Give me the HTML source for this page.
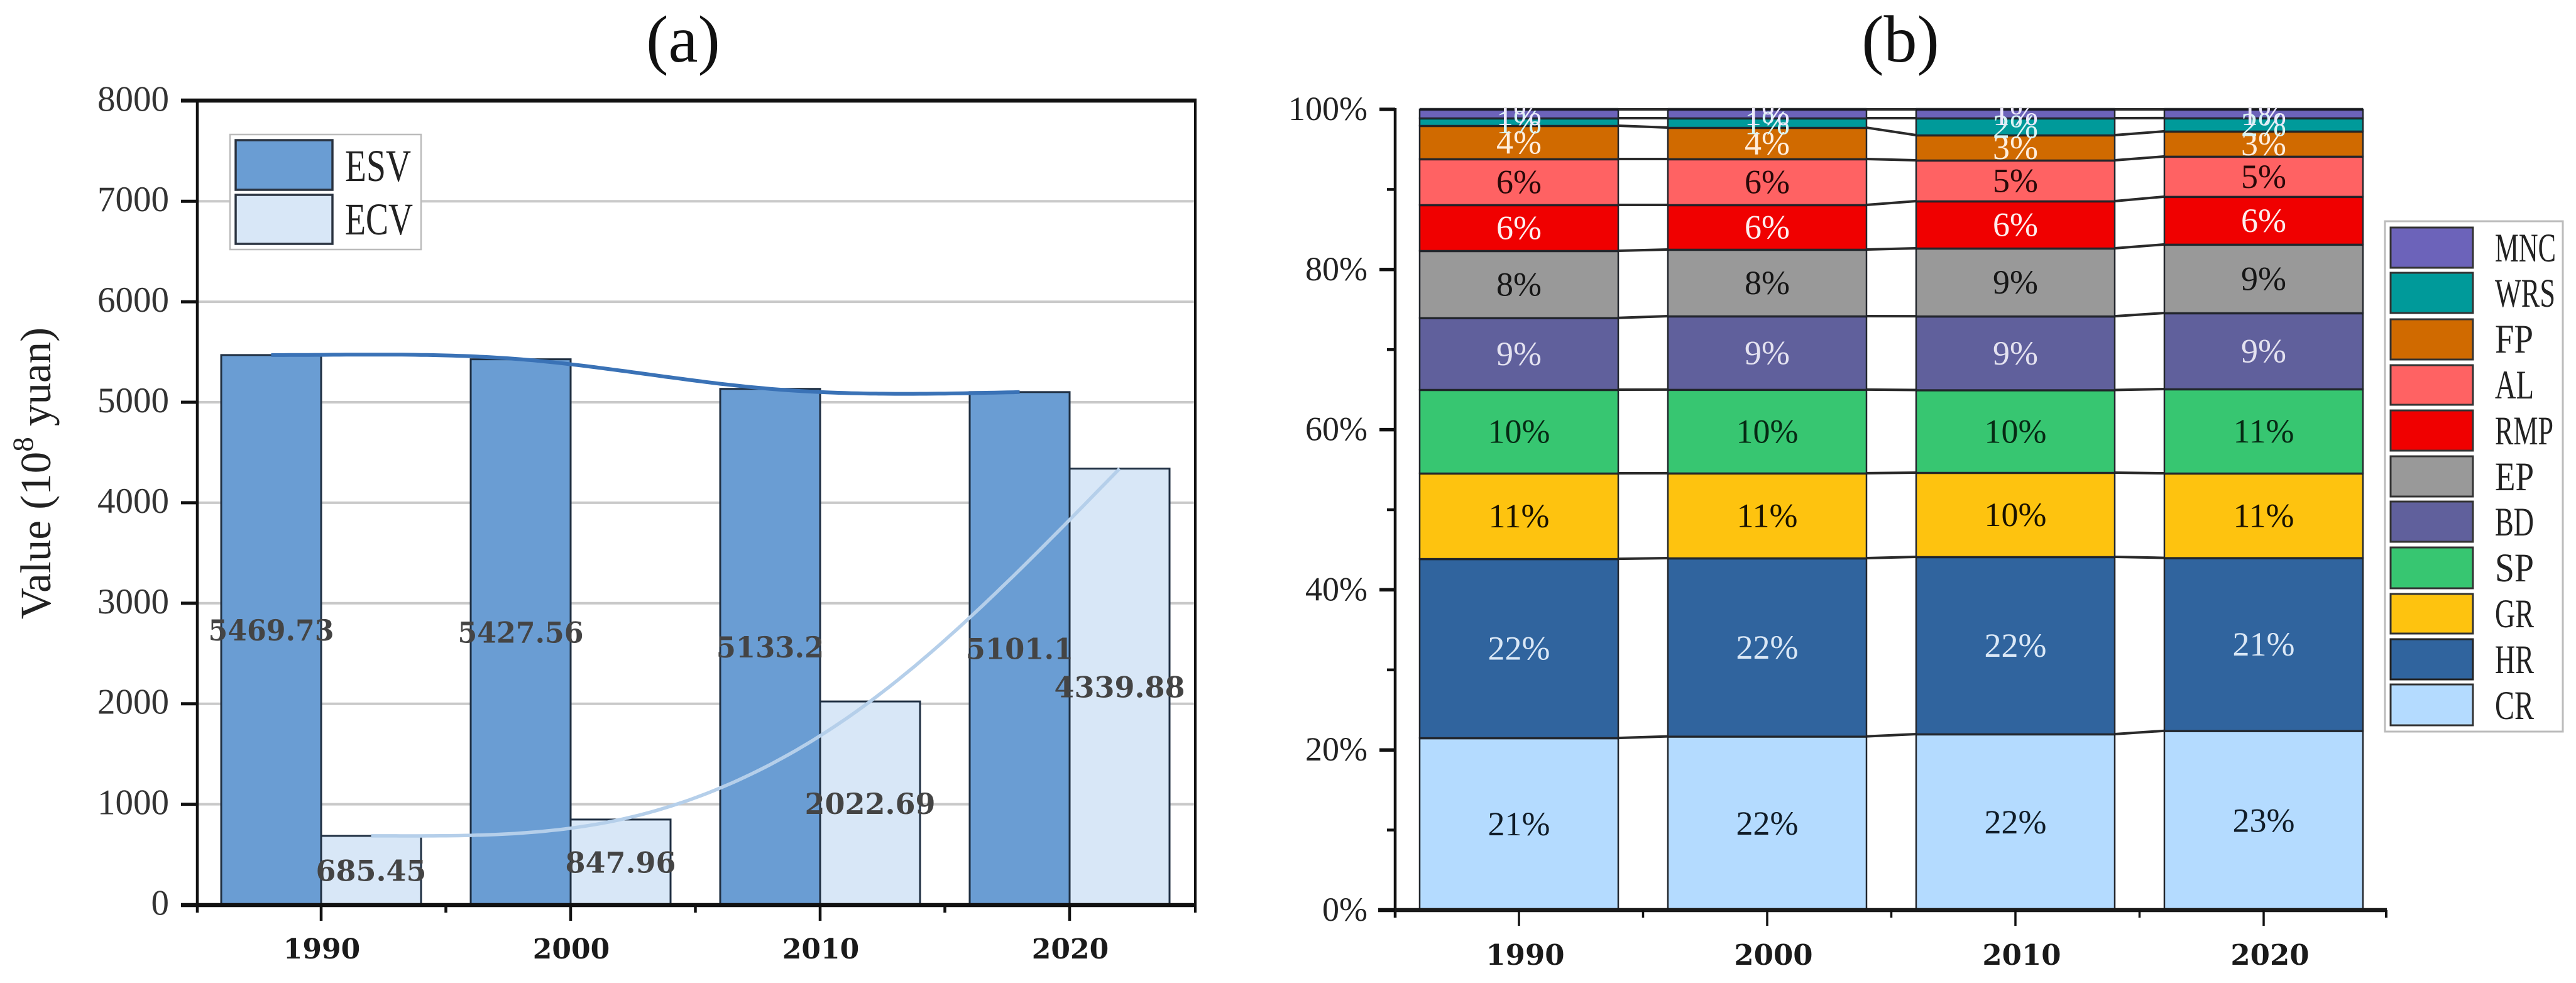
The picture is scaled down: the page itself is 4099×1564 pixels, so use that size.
<!DOCTYPE html>
<html lang="en">
<head>
<meta charset="utf-8">
<title>ESV and ECV charts</title>
<style>
html,body{margin:0;padding:0;background:#fff;}
svg{display:block;}
text{font-family:"Liberation Serif",serif;}
</style>
</head>
<body>
<svg id="figure" xmlns="http://www.w3.org/2000/svg" width="4099" height="1564" viewBox="0 0 4099 1564">
  <defs>
    <clipPath id="plot-b-clip"><rect x="2190" y="172" width="1620" height="1300"/></clipPath>
  </defs>
  <rect x="0" y="0" width="4099" height="1564" fill="#fff"/>
  <text x="1087" y="98" font-size="106" text-anchor="middle" fill="#111">(a)</text>
  <text x="3024" y="98" font-size="106" text-anchor="middle" fill="#111">(b)</text>
  <text transform="translate(80,753) rotate(-90)" font-size="69" text-anchor="middle" fill="#222">Value (10<tspan font-size="47" dy="-28">8</tspan><tspan dy="28"> yuan)</tspan></text>
  <g id="panel-a"></g>
  <g id="panel-b"></g>

  <g>
    <rect x="366" y="214" width="304" height="183" fill="#fff" stroke="#bbb" stroke-width="2.5"/>
    <rect x="375" y="223" width="154" height="79" fill="#6a9dd3" stroke="#2a3340" stroke-width="3.5"/>
    <rect x="375" y="310" width="154" height="78" fill="#d8e7f7" stroke="#2a3340" stroke-width="3.5"/>
    <text x="549" y="288" font-size="72" textLength="105" lengthAdjust="spacingAndGlyphs" fill="#222">ESV</text>
    <text x="549" y="373" font-size="72" textLength="108" lengthAdjust="spacingAndGlyphs" fill="#222">ECV</text>
  </g>

  <g>
    <rect x="3795" y="352" width="283" height="812" fill="#fff" stroke="#bbb" stroke-width="3"/>
    <rect x="3804" y="362" width="131" height="64" fill="#6c63ba" stroke="#333" stroke-width="3"/>
    <text x="3970" y="416" font-size="65" textLength="97" lengthAdjust="spacingAndGlyphs" fill="#222">MNC</text>
    <rect x="3804" y="434" width="131" height="64" fill="#009a9a" stroke="#333" stroke-width="3"/>
    <text x="3970" y="488" font-size="65" textLength="96" lengthAdjust="spacingAndGlyphs" fill="#222">WRS</text>
    <rect x="3804" y="508" width="131" height="64" fill="#d06a00" stroke="#333" stroke-width="3"/>
    <text x="3970" y="561" font-size="65" textLength="61" lengthAdjust="spacingAndGlyphs" fill="#222">FP</text>
    <rect x="3804" y="581" width="131" height="63" fill="#ff6263" stroke="#333" stroke-width="3"/>
    <text x="3970" y="634" font-size="65" textLength="62" lengthAdjust="spacingAndGlyphs" fill="#222">AL</text>
    <rect x="3804" y="653" width="131" height="64" fill="#f00000" stroke="#333" stroke-width="3"/>
    <text x="3970" y="707" font-size="65" textLength="93" lengthAdjust="spacingAndGlyphs" fill="#222">RMP</text>
    <rect x="3804" y="726" width="131" height="64" fill="#999999" stroke="#333" stroke-width="3"/>
    <text x="3970" y="780" font-size="65" textLength="62" lengthAdjust="spacingAndGlyphs" fill="#222">EP</text>
    <rect x="3804" y="798" width="131" height="64" fill="#60609c" stroke="#333" stroke-width="3"/>
    <text x="3970" y="852" font-size="65" textLength="62" lengthAdjust="spacingAndGlyphs" fill="#222">BD</text>
    <rect x="3804" y="871" width="131" height="65" fill="#37c671" stroke="#333" stroke-width="3"/>
    <text x="3970" y="925" font-size="65" textLength="62" lengthAdjust="spacingAndGlyphs" fill="#222">SP</text>
    <rect x="3804" y="945" width="131" height="63" fill="#fec30f" stroke="#333" stroke-width="3"/>
    <text x="3970" y="998" font-size="65" textLength="62" lengthAdjust="spacingAndGlyphs" fill="#222">GR</text>
    <rect x="3804" y="1017" width="131" height="64" fill="#30649e" stroke="#222" stroke-width="3"/>
    <text x="3970" y="1071" font-size="65" textLength="62" lengthAdjust="spacingAndGlyphs" fill="#222">HR</text>
    <rect x="3804" y="1089" width="131" height="65" fill="#b4dbff" stroke="#333" stroke-width="3"/>
    <text x="3970" y="1144" font-size="65" textLength="62" lengthAdjust="spacingAndGlyphs" fill="#222">CR</text>
  </g>
</svg>
<script>
// ---- data ----
const years = ['1990', '2000', '2010', '2020'];
const esvValues = [5469.73, 5427.56, 5133.2, 5101.1];
const ecvValues = [685.45, 847.96, 2022.69, 4339.88];
const valueTicks = [0, 1000, 2000, 3000, 4000, 5000, 6000, 7000, 8000];
const percentTicks = [0, 20, 40, 60, 80, 100];
const percentMinorTicks = [10, 30, 50, 70, 90];

const layerNames = ['CR', 'HR', 'GR', 'SP', 'BD', 'EP', 'RMP', 'AL', 'FP', 'WRS', 'MNC'];
const layerCR = [21.5, 21.69, 21.98, 22.39];
const layerHR = [22.37, 22.27, 22.13, 21.6];
const layerGR = [10.68, 10.6, 10.52, 10.56];
const layerSP = [10.44, 10.44, 10.32, 10.52];
const layerBD = [8.97, 9.18, 9.22, 9.5];
const layerEP = [8.38, 8.32, 8.48, 8.56];
const layerRMP = [5.73, 5.57, 5.89, 5.97];
const layerAL = [5.73, 5.73, 5.1, 5.02];
const layerFP = [4.16, 3.92, 3.14, 3.14];
const layerWRS = [0.94, 1.18, 2.12, 1.65];
const layerMNC = [1.1, 1.1, 1.1, 1.09];
const labelCR = ['21%', '22%', '22%', '23%'];
const labelHR = ['22%', '22%', '22%', '21%'];
const labelGR = ['11%', '11%', '10%', '11%'];
const labelSP = ['10%', '10%', '10%', '11%'];
const labelBD = ['9%', '9%', '9%', '9%'];
const labelEP = ['8%', '8%', '9%', '9%'];
const labelRMP = ['6%', '6%', '6%', '6%'];
const labelAL = ['6%', '6%', '5%', '5%'];
const labelFP = ['4%', '4%', '3%', '3%'];
const labelWRS = ['1%', '1%', '2%', '2%'];
const labelMNC = ['1%', '1%', '1%', '1%'];

const layerValues = [layerCR, layerHR, layerGR, layerSP, layerBD, layerEP, layerRMP, layerAL, layerFP, layerWRS, layerMNC];
const layerLabels = [labelCR, labelHR, labelGR, labelSP, labelBD, labelEP, labelRMP, labelAL, labelFP, labelWRS, labelMNC];
const layerColors = ['#b4dbff', '#30649e', '#fec30f', '#37c671', '#60609c', '#999999', '#f00000', '#ff6263', '#d06a00', '#009a9a', '#6c63ba'];
const layerTextColors = ['#101c28', '#dbe8f6', '#1a1200', '#062a14', '#e4e2f0', '#161616', '#fdeeee', '#2a0808', '#ffeedd', '#d8f4f4', '#ece8fb'];

// ---- axis functions ----
const yA = v => 1439.5 - v * 0.1599;
const xA = i => 511 + i * 397;
const barWidthA = 159;
const yB = p => 1448 - p * 12.74;
const xB = i => 2417 + i * 395;
const barWidthB = 316;

const NS = 'http://www.w3.org/2000/svg';
const panelA = document.getElementById('panel-a');
const panelB = document.getElementById('panel-b');

function mk(parent, tag, attrs, txt) {
  const e = document.createElementNS(NS, tag);
  for (const k in attrs) e.setAttribute(k, attrs[k]);
  if (txt !== undefined) e.textContent = txt;
  parent.appendChild(e);
  return e;
}

// cubic spline through evenly spaced data (flat start, natural end), sampled into a path
function splinePath(vals, xf, yf) {
  const n = vals.length;
  const a = new Array(n).fill(1), b = new Array(n).fill(4), c = new Array(n).fill(1), r = new Array(n).fill(0);
  b[0] = 2; c[0] = 1; a[0] = 0;
  r[0] = 6 * (vals[1] - vals[0]);
  for (let i = 1; i < n - 1; i++) r[i] = 6 * (vals[i + 1] - 2 * vals[i] + vals[i - 1]);
  a[n - 1] = 0; b[n - 1] = 1; c[n - 1] = 0; r[n - 1] = 0;
  for (let i = 1; i < n; i++) {
    const m = a[i] / b[i - 1];
    b[i] -= m * c[i - 1];
    r[i] -= m * r[i - 1];
  }
  const M = new Array(n).fill(0);
  M[n - 1] = r[n - 1] / b[n - 1];
  for (let i = n - 2; i >= 0; i--) M[i] = (r[i] - c[i] * M[i + 1]) / b[i];
  let out = '';
  for (let i = 0; i < n - 1; i++) {
    for (let s = 0; s <= 40; s++) {
      const t = s / 40, u = 1 - t;
      const v = u * vals[i] + t * vals[i + 1] + ((u * u * u - u) * M[i] + (t * t * t - t) * M[i + 1]) / 6;
      out += (out ? 'L' : 'M') + xf(i + t).toFixed(1) + ' ' + yf(v).toFixed(1);
    }
  }
  return out;
}

// ---- panel a ----
valueTicks.forEach(v => {
  if (v === 0 || v === 8000) return;
  const g = mk(panelA, 'line', { x1: 314, x2: 1902, y1: yA(v), y2: yA(v), stroke: '#c9c9c9', 'stroke-width': 4 });
  
  
});

years.forEach((yr, i) => {
  const b1 = mk(panelA, 'rect', { x: xA(i) - barWidthA, y: yA(esvValues[i]), width: barWidthA, height: yA(0) - yA(esvValues[i]), fill: '#6a9dd3', stroke: '#1f2f42', 'stroke-width': 3 });
  
  
  const b2 = mk(panelA, 'rect', { x: xA(i), y: yA(ecvValues[i]), width: barWidthA, height: yA(0) - yA(ecvValues[i]), fill: '#d8e7f7', stroke: '#1f2f42', 'stroke-width': 3 });
  
  
});

const esvLine = mk(panelA, 'path', { d: splinePath(esvValues, t => xA(t) - barWidthA / 2, yA), fill: 'none', stroke: '#3a72b6', 'stroke-width': 6 });


const ecvLine = mk(panelA, 'path', { d: splinePath(ecvValues, t => xA(t) + barWidthA / 2, yA), fill: 'none', stroke: '#b5cfea', 'stroke-width': 5.5 });



years.forEach((yr, i) => {
  const common = { 'text-anchor': 'middle', 'font-size': 46, 'font-weight': 'bold', fill: '#444', style: 'font-family:"DejaVu Serif",serif' };
  const a1 = mk(panelA, 'text', Object.assign({ x: xA(i) - barWidthA / 2, y: yA(esvValues[i] / 2) + 17, textLength: 4.35 * 46 * String(esvValues[i]).length / 7, lengthAdjust: 'spacingAndGlyphs' }, common), String(esvValues[i]));
  
  
  const a2 = mk(panelA, 'text', Object.assign({ x: xA(i) + barWidthA / 2, y: yA(ecvValues[i] / 2) + 17 }, common), String(ecvValues[i]));
  
  
});

const leftA = mk(panelA, 'line', { x1: 314, x2: 314, y1: 158, y2: 1452, stroke: '#111', 'stroke-width': 4.5 });


const rightA = mk(panelA, 'line', { x1: 1902, x2: 1902, y1: 158, y2: 1452, stroke: '#111', 'stroke-width': 4 });


const topA = mk(panelA, 'line', { x1: 288, x2: 1904, y1: 160, y2: 160, stroke: '#111', 'stroke-width': 6.5 });


const bottomA = mk(panelA, 'line', { x1: 288, x2: 1904, y1: 1440, y2: 1440, stroke: '#111', 'stroke-width': 6.5 });



valueTicks.forEach(v => {
  const t = mk(panelA, 'line', { x1: 288, x2: 314, y1: yA(v), y2: yA(v), stroke: '#111', 'stroke-width': 5 });
  
  
  const l = mk(panelA, 'text', { x: 269, y: yA(v) + 16, 'font-size': 57, 'text-anchor': 'end', fill: '#333' }, String(v));
  
  
});

years.forEach((yr, i) => {
  const t = mk(panelA, 'line', { x1: xA(i), x2: xA(i), y1: 1440, y2: 1465, stroke: '#111', 'stroke-width': 4.5 });
  
  
  if (i < years.length - 1) {
    const m = mk(panelA, 'line', { x1: xA(i + 0.5), x2: xA(i + 0.5), y1: 1440, y2: 1452, stroke: '#111', 'stroke-width': 4.5 });
    
    
  }
  const l = mk(panelA, 'text', { x: xA(i) + 1, y: 1525, 'font-size': 44, 'font-weight': 'bold', 'text-anchor': 'middle', fill: '#1a1a1a', style: 'font-family:"DejaVu Serif",serif' }, yr);
  
  
});

// ---- panel b ----
function cumulative(layerIndex, yearIndex) {
  let s = 0;
  for (let k = 0; k <= layerIndex; k++) s += layerValues[k][yearIndex];
  return s;
}

// connectors between neighbouring bars
layerNames.forEach((nm, k) => {
  for (let i = 0; i < years.length - 1; i++) {
    const c = mk(panelB, 'line', {
      x1: xB(i) + barWidthB / 2, y1: yB(cumulative(k, i)),
      x2: xB(i + 1) - barWidthB / 2, y2: yB(cumulative(k, i + 1)),
      stroke: '#2a2a2a', 'stroke-width': 4
    });
    
    
  }
});

years.forEach((yr, i) => {
  layerNames.forEach((nm, k) => {
    const top = cumulative(k, i);
    const bottom = k === 0 ? 0 : cumulative(k - 1, i);
    const s = mk(panelB, 'rect', { x: xB(i) - barWidthB / 2, y: yB(top), width: barWidthB, height: yB(bottom) - yB(top), fill: layerColors[k], stroke: '#22262c', 'stroke-width': 2.5 });
    
    
    const e = mk(panelB, 'line', { x1: xB(i) - barWidthB / 2, x2: xB(i) + barWidthB / 2, y1: yB(top), y2: yB(top), stroke: '#15181c', 'stroke-width': 4.5, 'stroke-opacity': 0.85 });
    
    
  });
});

const labelsB = mk(panelB, 'g', { 'clip-path': 'url(#plot-b-clip)' });


years.forEach((yr, i) => {
  layerNames.forEach((nm, k) => {
    const top = cumulative(k, i);
    const bottom = k === 0 ? 0 : cumulative(k - 1, i);
    const l = mk(labelsB, 'text', { x: xB(i), y: yB((top + bottom) / 2) + 18, 'font-size': 54, 'text-anchor': 'middle', fill: layerTextColors[k] }, layerLabels[k][i]);
    
    
  });
});

const leftB = mk(panelB, 'line', { x1: 2220, x2: 2220, y1: 172, y2: 1460, stroke: '#111', 'stroke-width': 4.5 });


const bottomB = mk(panelB, 'line', { x1: 2193, x2: 3798, y1: 1448, y2: 1448, stroke: '#1a1a1a', 'stroke-width': 6.5 });


const endB = mk(panelB, 'line', { x1: 3797, x2: 3797, y1: 1448, y2: 1460, stroke: '#111', 'stroke-width': 4 });



percentTicks.forEach(p => {
  const t = mk(panelB, 'line', { x1: 2195, x2: 2220, y1: yB(p), y2: yB(p), stroke: '#111', 'stroke-width': 5.5 });
  
  
  const l = mk(panelB, 'text', { x: 2176, y: yB(p) + 17, 'font-size': 54, 'text-anchor': 'end', fill: '#222' }, p + '%');
  
  
});
percentMinorTicks.forEach(p => {
  const t = mk(panelB, 'line', { x1: 2207, x2: 2220, y1: yB(p), y2: yB(p), stroke: '#111', 'stroke-width': 4.5 });
  
  
});

years.forEach((yr, i) => {
  const t = mk(panelB, 'line', { x1: xB(i), x2: xB(i), y1: 1448, y2: 1473, stroke: '#111', 'stroke-width': 3.5 });
  
  
  if (i < years.length - 1) {
    const m = mk(panelB, 'line', { x1: xB(i + 0.5), x2: xB(i + 0.5), y1: 1448, y2: 1460, stroke: '#111', 'stroke-width': 3.5 });
    
    
  }
  const l = mk(panelB, 'text', { x: xB(i) + 10, y: 1535, 'font-size': 45, 'font-weight': 'bold', 'text-anchor': 'middle', fill: '#1a1a1a', style: 'font-family:"DejaVu Serif",serif' }, yr);
  
  
});
</script>
</body>
</html>
